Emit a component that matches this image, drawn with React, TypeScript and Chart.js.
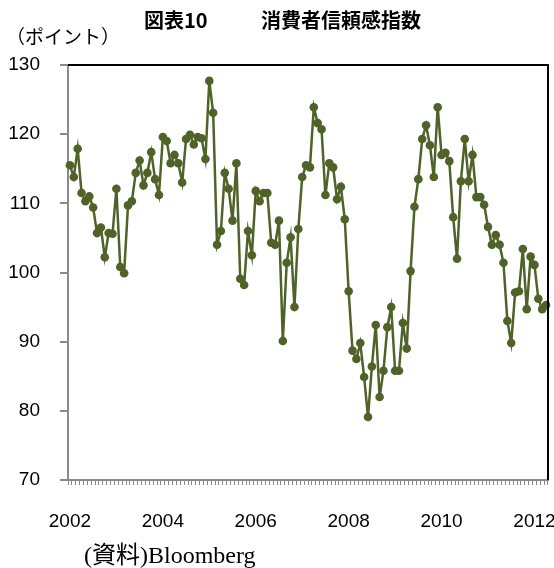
import React, { useEffect, useRef } from "react";
import { Chart, registerables } from "chart.js";

Chart.register(...registerables);

const TITLE_LEFT = "図表10";
const TITLE_RIGHT = "消費者信頼感指数";
const Y_UNIT = "（ポイント）";
const SOURCE = "(資料)Bloomberg";

const START_YEAR = 2002;
const YEAR_TICKS = ["2002", "2004", "2006", "2008", "2010", "2012"];

const v2002 = [115.5, 113.8, 117.9, 111.5, 110.3, 111.0, 109.4, 105.7, 106.5, 102.2, 105.7, 105.6];
const v2003 = [112.1, 100.8, 99.9, 109.7, 110.3, 114.4, 116.2, 112.6, 114.4, 117.4, 113.5, 111.2];
const v2004 = [119.6, 119.0, 115.8, 117.0, 115.8, 113.0, 119.3, 119.9, 118.5, 119.6, 119.4, 116.4];
const v2005 = [127.7, 123.1, 104.0, 106.0, 114.4, 112.1, 107.5, 115.8, 99.1, 98.2, 106.0, 102.5];
const v2006 = [111.8, 110.3, 111.5, 111.5, 104.3, 104.0, 107.5, 90.1, 101.4, 105.1, 95.0, 106.3];
const v2007 = [113.8, 115.5, 115.2, 123.9, 121.6, 120.7, 111.2, 115.8, 115.2, 110.6, 112.4, 107.7];
const v2008 = [97.3, 88.7, 87.5, 89.8, 84.9, 79.1, 86.4, 92.4, 82.0, 85.8, 92.1, 95.0];
const v2009 = [85.8, 85.8, 92.7, 89.0, 100.2, 109.5, 113.5, 119.3, 121.3, 118.4, 113.8, 123.9];
const v2010 = [117.0, 117.3, 116.1, 108.0, 102.0, 113.2, 119.3, 113.2, 117.0, 110.9, 110.9, 109.8];
const v2011 = [106.6, 104.0, 105.4, 104.0, 101.4, 93.0, 89.8, 97.1, 97.3, 103.4, 94.7, 102.3];
const v2012 = [101.1, 96.2, 94.7, 95.3];

const values = [...v2002, ...v2003, ...v2004, ...v2005, ...v2006, ...v2007, ...v2008, ...v2009, ...v2010, ...v2011, ...v2012];
const categories = values.map((_, i) => `${START_YEAR + Math.floor(i / 12)}/${(i % 12) + 1}`);

const LINE_COLOR = "#4F6228";
const AXIS_GRAY = "#8a8a8a";

const textPlugin = {
  id: "texts",
  afterDraw(chart: any) {
    const ctx = chart.ctx;
    const { left, right, top, bottom } = chart.chartArea;
    ctx.save();
    ctx.strokeStyle = "#000";
    ctx.lineWidth = 2;
    ctx.beginPath();
    ctx.moveTo(left, top);
    ctx.lineTo(right, top);
    ctx.lineTo(right, bottom);
    ctx.stroke();

    ctx.fillStyle = "#000";
    ctx.textBaseline = "middle";
    ctx.textAlign = "left";
    ctx.font = "bold 20px 'Noto Sans CJK JP', sans-serif";
    ctx.fillText(TITLE_LEFT, 144, 20);
    ctx.fillText(TITLE_RIGHT, 261, 20);

    ctx.font = "19px 'Noto Sans CJK JP', sans-serif";
    ctx.fillText(Y_UNIT, 6, 37);

    ctx.font = "24px 'Liberation Serif', 'Noto Sans CJK JP', serif";
    ctx.fillText(SOURCE, 84, 557);
    ctx.restore();
  },
};

export default function App() {
  const ref = useRef<HTMLCanvasElement>(null);
  useEffect(() => {
    const chart = new Chart(ref.current!, {
      type: "line",
      data: {
        labels: categories,
        datasets: [
          {
            data: values,
            borderColor: LINE_COLOR,
            backgroundColor: LINE_COLOR,
            borderWidth: 2.5,
            pointRadius: 4.3,
            pointHoverRadius: 4.3,
            pointBorderWidth: 0,
            pointBackgroundColor: LINE_COLOR,
            tension: 0,
          },
        ],
      },
      options: {
        animation: false,
        responsive: false,
        events: [],
        layout: { padding: { top: 65, right: 6, left: 0, bottom: 0 } },
        plugins: { legend: { display: false }, tooltip: { enabled: false }, title: { display: false } },
        scales: {
          x: {
            type: "category",
            offset: true,
            grid: {
              display: true,
              offset: true,
              drawOnChartArea: false,
              drawTicks: true,
              tickLength: 5,
              color: AXIS_GRAY,
              lineWidth: 1,
            },
            border: { display: true, color: AXIS_GRAY, width: 2 },
            ticks: {
              autoSkip: false,
              maxRotation: 0,
              minRotation: 0,
              padding: 25,
              color: "#000",
              font: { family: "'Liberation Sans', Arial, sans-serif", size: 19 },
              callback: (_v: any, i: number) => {
                if (i % 24 === 0) {
                  const y = String(START_YEAR + i / 12);
                  return YEAR_TICKS.includes(y) ? y : "";
                }
                return "";
              },
            },
            afterFit: (s: any) => {
              s.height = 88;
              s.paddingLeft = 0;
              s.paddingRight = 0;
            },
          },
          y: {
            min: 70,
            max: 130,
            ticks: {
              stepSize: 10,
              padding: 20,
              color: "#000",
              font: { family: "'Liberation Sans', Arial, sans-serif", size: 19 },
            },
            grid: {
              display: true,
              drawOnChartArea: false,
              drawTicks: true,
              tickLength: 8,
              color: AXIS_GRAY,
              lineWidth: 2,
            },
            border: { display: true, color: AXIS_GRAY, width: 2 },
            afterFit: (s: any) => {
              s.width = 68;
              s.paddingTop = 0;
              s.paddingBottom = 0;
            },
          },
        },
      },
      plugins: [textPlugin],
    });
    return () => chart.destroy();
  }, []);
  return (
    <div style={{ position: "absolute", left: 0, top: 0, width: 554, height: 568, background: "#fff" }}>
      <canvas ref={ref} width={554} height={568} style={{ width: 554, height: 568 }} />
    </div>
  );
}
